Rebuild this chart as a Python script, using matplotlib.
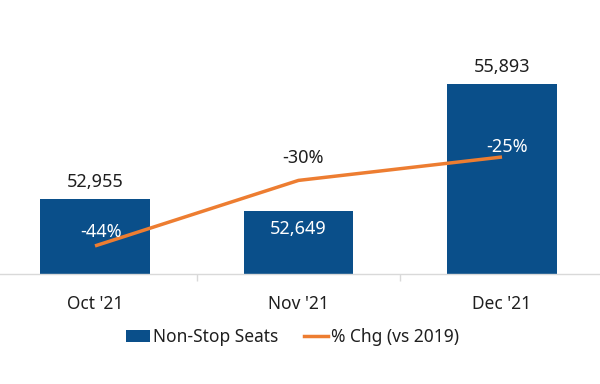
import matplotlib
matplotlib.use("Agg")
import matplotlib.pyplot as plt
from matplotlib.patches import Patch
from matplotlib.lines import Line2D

categories = ["Oct '21", "Nov '21", "Dec '21"]
seats = [52955, 52649, 55893]
pct_chg = [-44, -30, -25]
series_names = ["Non-Stop Seats", "% Chg (vs 2019)"]

bar_color = "#0A4F8A"
line_color = "#ED7D31"
text_color = "#1F1F1F"

plt.rcParams['font.family'] = ['Noto Sans', 'DejaVu Sans']

fig = plt.figure(figsize=(6, 3.84), dpi=100)
ax = fig.add_axes([0, 1 - 274/384, 1, 234/384])
x = list(range(len(categories)))
ax.bar(x, seats, width=0.54, color=bar_color, zorder=2)
ax.set_xlim(-95/203.5, -95/203.5 + 600/203.5)
ax.set_ylim(51040, 57020)
ax.set_yticks([])
ax.set_xticks(x)
ax.set_xticklabels(categories, fontsize=12.5, color=text_color)
ax.set_xticks([0.5, 1.5], minor=True)
ax.tick_params(axis='x', which='major', length=0, pad=15)
ax.tick_params(axis='x', which='minor', length=5, color="#D9D9D9", width=1)
for s in ['top', 'right', 'left']:
    ax.spines[s].set_visible(False)
ax.spines['bottom'].set_color("#D9D9D9")
ax.spines['bottom'].set_linewidth(1)

# bar labels
bar_offsets = [17, -18, 17]
bar_text_colors = [text_color, "white", text_color]
for xi, v, off, c in zip(x, seats, bar_offsets, bar_text_colors):
    ax.annotate(f"{v:,}", (xi, v), xytext=(0, off), textcoords='offset pixels',
                ha='center', va='center', fontsize=13, color=c, zorder=5)

ax2 = ax.twinx()
ax2.set_ylim(-50, 0)
ax2.set_yticks([])
for s in ax2.spines.values():
    s.set_visible(False)
ax2.plot(x, pct_chg, color=line_color, linewidth=2.5, zorder=3, solid_capstyle='butt')
pct_offsets = [(6, 14), (4, 22), (5, 10)]
pct_colors = ["white", text_color, "white"]
for xi, v, off, c in zip(x, pct_chg, pct_offsets, pct_colors):
    ax2.annotate(f"{v}%", (xi, v), xytext=off, textcoords='offset pixels',
                 ha='center', va='center', fontsize=13, color=c, zorder=5)

handles = [Patch(facecolor=bar_color, edgecolor='none'),
           Line2D([0], [0], color=line_color, linewidth=2.5)]
fig.legend(handles, series_names, loc='center', bbox_to_anchor=(0.4875, 1 - 337/384),
           ncol=2, frameon=False, fontsize=12.5, handlelength=1.4, handletextpad=0.15,
           columnspacing=1.5, labelcolor=text_color)

fig.savefig("out.png", dpi=100)
